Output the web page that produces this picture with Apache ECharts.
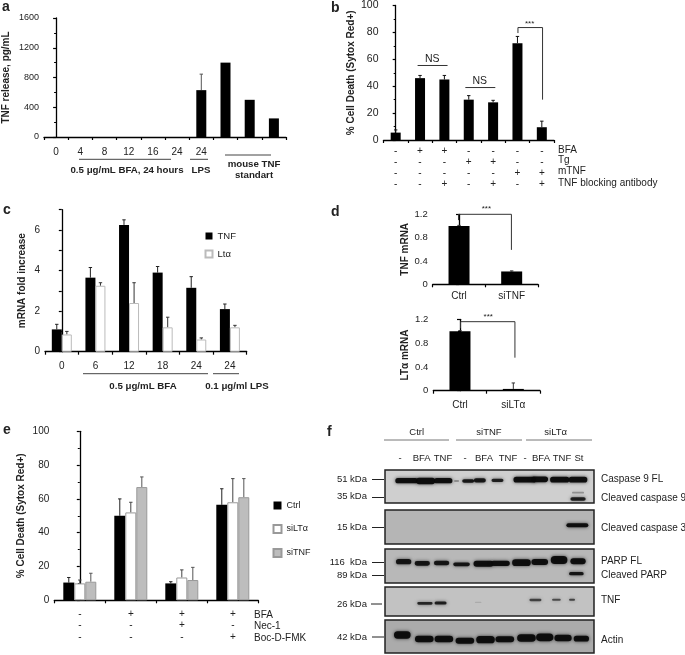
<!DOCTYPE html>
<html><head><meta charset="utf-8">
<style>html,body{margin:0;padding:0;background:#fff}#c{width:685px;height:655px;filter:blur(0.5px)}</style>
<script src="https://cdn.jsdelivr.net/npm/echarts@6/dist/echarts.min.js"></script>
</head><body><div id="c"></div>
<script>
// ---- data ----
const aCats=['0','4','8','12','16','24','24','','',''];
const aValues=[0,0,0,0,0,0,630,1000,500,250];
const aUpper=[null,null,null,null,null,null,845,null,null,null];

const bBFA=['-','+','+','-','-','-','-'];
const bTg=['-','-','-','+','+','-','-'];
const bMTNF=['-','-','-','-','-','+','+'];
const bAb=['-','-','+','-','+','-','+'];
const bValues=[5.5,46,45,30,28,72,9.5];
const bUpper=[7.5,48,48,33,29.5,77,14];

const cCats=['0','6','12','18','24','24'];
const cTNF=[1.1,3.65,6.25,3.9,3.15,2.1];
const cTNFUpper=[1.35,4.15,6.5,4.2,3.7,2.35];
const cLta=[0.85,3.25,2.4,1.2,0.6,1.2];
const cLtaUpper=[1.0,3.4,3.4,1.7,0.68,1.3];

const d1Cats=['Ctrl','siTNF'];
const d1Values=[1,0.22];
const d1Upper=[1.01,0.23];
const d2Cats=['Ctrl','siLTα'];
const d2Values=[1,0.03];
const d2Upper=[1.01,0.13];

const eBFA=['-','+','+','+'];
const eNec=['-','-','+','-'];
const eBoc=['-','-','-','+'];
const eCtrl=[10.5,50,10,56.5];
const eCtrlUpper=[13.5,60,11,66];
const eLta=[10,52,13.5,58];
const eLtaUpper=[12,58,18,72];
const eTNF=[11,67,12,61];
const eTNFUpper=[16,73,19.5,72];

// blot bands: [lane position, vertical position, band width, band thickness, darkness]
const blotCasp9=[[65,32,68,16,.95],[122,33,58,19,.95],[175,32,55,16,.95],[215,33,15,5,.4],[250,33,36,11,.9],[285,31,36,13,.9],[338,31,36,10,.85],[420,29,68,17,.95],[465,28,50,17,.95],[525,29,58,17,.95],[580,29,56,17,.95],[580,87,46,11,.85],[580,68,36,5,.3]];
const blotCasp3=[[578,46,66,12,.95]];
const blotPARP=[[56,38,46,16,.9],[112,43,46,14,.9],[170,42,46,14,.9],[230,46,50,11,.9],[296,44,60,18,.95],[347,43,56,16,.95],[410,41,56,20,.95],[465,39,50,18,.95],[523,33,50,24,.95],[580,37,46,18,.95],[575,74,44,10,.9]];
const blotTNFb=[[120,49,46,8,.8],[167,48,36,9,.85],[280,46,20,4,.12],[452,39,36,7,.65],[515,38,26,6,.6],[562,38,18,6,.65]];
const blotActin=[[52,45,50,22,.95],[118,57,56,20,.95],[177,57,56,20,.95],[240,62,56,18,.95],[302,59,56,22,.95],[360,58,56,18,.95],[425,54,56,23,.95],[480,52,52,23,.95],[535,54,52,20,.95],[590,56,46,17,.95]];

// ---- annotation text and rules ----
const FONT='"Liberation Sans",Arial,sans-serif';
const panelLetters=[['a',2,7],['b',331,8],['c',3,210],['d',331,212],['e',3,430],['f',327,432]];
const boldNotes=[['0.5 μg/mL BFA, 24 hours',127,170],['LPS',201,170],['mouse TNF',254,164],['standart',254,175],['0.5 μg/mL BFA',143,386],['0.1 μg/ml LPS',237,386]];
const rowNotes=[['BFA',558,150],['Tg',558,160.5],['mTNF',558,171.5],['TNF blocking antibody',558,183],['BFA',254,615],['Nec-1',254,626.5],['Boc-D-FMK',254,638]];
const centerNotes=[['Ctrl',416.7,432],['siTNF',489,432],['siLTα',555.7,432],['-',400,458.7],['BFA',421.7,458.7],['TNF',443,458.7],['-',465,458.7],['BFA',484,458.7],['TNF',508,458.7],['-',525,458.7],['BFA',541,458.7],['TNF',562,458.7],['St',579,458.7]];
const kdaNotes=[['51 kDa',479],['35 kDa',496],['15 kDa',527],['116  kDa',562],['89 kDa',575],['26 kDa',604],['42 kDa',637]];
const bandNotes=[['Caspase 9 FL',479],['Cleaved caspase 9',498],['Cleaved caspase 3',528],['PARP FL',561],['Cleaved PARP',575],['TNF',600],['Actin',640]];
const rules=[[79,159.3,171,159.3,'#444'],[190,159.3,208,159.3,'#444'],[225,155,271,155,'#444'],[83,373.7,208,373.7,'#444'],[213,373.7,239,373.7,'#444'],[384,440,449,440,'#777'],[456,440,522,440,'#777'],[526,440,592,440,'#777'],[372,479.5,384,479.5,'#222'],[372,497.5,384,497.5,'#222'],[372,527.5,384,527.5,'#222'],[372,562.5,384,562.5,'#222'],[372,575.5,384,575.5,'#222'],[371,604,382,604,'#222'],[372,637,384,637,'#222']];

// ---- builders ----
const grids=[],xAxes=[],yAxes=[],series=[];
const txt={fontFamily:FONT,color:'#222'};
const line={lineStyle:{color:'#000',width:1.3}};
function addChart(o){
  const g=grids.length,n=o.cats.length;
  grids.push({left:o.l,top:o.t,width:o.w,height:o.h,containLabel:false});
  xAxes.push({gridIndex:g,type:'category',data:o.cats,axisLine:line,axisTick:{show:true,length:3,inside:false,alignWithLabel:false,lineStyle:{color:'#000',width:1.2}},
    axisLabel:Object.assign({interval:0,fontSize:o.xSize||10,margin:o.xMargin||8,lineHeight:o.xLine||12},txt)});
  const hiddenIndex=xAxes.length;
  xAxes.push({gridIndex:g,type:'value',show:false,min:-0.5,max:n-0.5,splitLine:{show:false}});
  yAxes.push({gridIndex:g,type:'value',min:0,max:o.max,interval:o.iv,position:'left',
    name:o.name,nameLocation:'middle',nameGap:o.gap,nameTextStyle:Object.assign({fontSize:o.nameSize||10,fontWeight:'bold'},txt),
    axisLine:Object.assign({show:true},line),axisTick:{show:true,length:3,lineStyle:{color:'#000',width:1.2}},
    minorTick:{show:o.minor!==false,splitNumber:2,length:2,lineStyle:{color:'#000',width:1}},splitLine:{show:false},minorSplitLine:{show:false},
    axisLabel:Object.assign({fontSize:o.ySize||9,margin:5,formatter:o.yFmt||(v=>String(v))},txt)});
  return {g,x:hiddenIndex,y:yAxes.length-1};
}
function bars(ax,name,vals,width,style){
  series.push({type:'bar',name,data:vals,xAxisIndex:xAxes.findIndex(a=>a.gridIndex===ax.g),yAxisIndex:ax.y,barWidth:width,barGap:'0%',itemStyle:style,silent:true});
}
function errs(ax,vals,upper,offset,color){
  const d=vals.map((v,i)=>[i+offset,v,upper[i]]).filter(r=>r[2]!=null);
  series.push({type:'custom',xAxisIndex:ax.x,yAxisIndex:ax.y,data:d,encode:{x:0,y:2},clip:false,silent:true,z:1,
    renderItem:(p,api)=>{
      const a=api.coord([api.value(0),api.value(1)]),b=api.coord([api.value(0),api.value(2)]);
      const s={stroke:color,lineWidth:1};
      return {type:'group',children:[
        {type:'line',shape:{x1:a[0],y1:a[1],x2:b[0],y2:b[1]},style:s},
        {type:'line',shape:{x1:b[0]-1.7,y1:b[1],x2:b[0]+1.7,y2:b[1]},style:s}]};
    }});
}
function bracket(ax,pts,label,lx,ly,size,color){
  series.push({type:'custom',xAxisIndex:ax.x,yAxisIndex:ax.y,data:[pts[0]],encode:{x:0,y:1},clip:false,silent:true,z:5,
    renderItem:(p,api)=>{
      const c=pts.map(q=>api.coord(q)),t=api.coord([lx,ly]);
      return {type:'group',children:[
        {type:'polyline',shape:{points:c},style:{stroke:color||'#333',lineWidth:1,fill:'none'}},
        {type:'text',style:{text:label,x:t[0],y:t[1],align:'center',verticalAlign:'middle',font:(size||10)+'px '+FONT,fill:'#222'}}]};
    }});
}
function blot(l,t,w,h,bg,bands){
  const g=grids.length;
  grids.push({show:true,left:l,top:t,width:w,height:h,backgroundColor:bg,borderColor:'#222',borderWidth:1.5});
  xAxes.push({gridIndex:g,type:'value',show:false,min:0,max:628});
  yAxes.push({gridIndex:g,type:'value',show:false,inverse:true,min:0,max:h*3});
  series.push({type:'custom',xAxisIndex:xAxes.length-1,yAxisIndex:yAxes.length-1,data:bands,encode:{x:0,y:1},clip:true,silent:true,
    renderItem:(p,api)=>{
      const v=[0,1,2,3,4].map(i=>api.value(i)),c=api.coord([v[0],v[1]]),sz=api.size([v[2],v[3]]);
      return {type:'rect',shape:{x:c[0]-sz[0]/2,y:c[1]-sz[1]/2,width:sz[0],height:sz[1],r:sz[1]/2},
        style:{fill:'rgba(10,10,10,'+v[4]+')',shadowBlur:3.5,shadowColor:'rgba(10,10,10,'+(v[4]*0.8)+')'}};
    }});
}
const black={color:'#000'};
const rows=(...cols)=>cols[0].map((_,i)=>cols.map(c=>c[i]).join('\n'));

// panel a
const a=addChart({l:44,t:18,w:242,h:119,cats:aCats,max:1600,iv:400,name:'TNF release, pg/mL',gap:33,xMargin:9});
bars(a,'TNF release',aValues,10,black);errs(a,aValues,aUpper,0,'#555');
// panel b
const b=addChart({l:383.5,t:5,w:170.5,h:135,cats:rows(bBFA,bTg,bMTNF,bAb),max:100,iv:20,ySize:10.5,name:'% Cell Death (Sytox Red+)',gap:27,xMargin:6,xLine:11});
bars(b,'Cell death',bValues,10,black);errs(b,bValues,bUpper,0,'#111');
bracket(b,[[0.9,55.4],[2.13,55.4]],'NS',1.5,60.5,10.5);
bracket(b,[[2.86,39],[4.09,39]],'NS',3.45,44,10.5);
bracket(b,[[5.02,79.5],[5.02,83.6],[6.03,83.6],[6.03,30]],'***',5.5,86.5,8);
// panel c
const c=addChart({l:45,t:209.7,w:201.7,h:142,cats:cCats,max:7,iv:1,ySize:10,minor:false,name:'mRNA fold increase',gap:18,xMargin:9,yFmt:v=>v%2===0?String(v):''});
bars(c,'TNF',cTNF,10,black);bars(c,'Ltα',cLta,10,{color:'#fff',borderColor:'#bbb',borderWidth:1});
errs(c,cTNF,cTNFUpper,-0.15,'#222');errs(c,cLta,cLtaUpper,0.15,'#333');
// panel d
const d1=addChart({l:432.7,t:214.3,w:105.3,h:70,cats:d1Cats,max:1.2,iv:0.4,name:'TNF mRNA',gap:22,xMargin:6,ySize:9.5});
bars(d1,'TNF mRNA',d1Values,21,black);errs(d1,d1Values,d1Upper,0,'#333');
bracket(d1,[[-0.01,1.1],[-0.01,1.2],[0.995,1.2],[0.995,0.59]],'***',0.52,1.3,8);
const d2=addChart({l:433.3,t:319.3,w:106.7,h:71.4,cats:d2Cats,max:1.2,iv:0.4,name:'LTα mRNA',gap:23,xMargin:9,ySize:9.5});
bars(d2,'LTα mRNA',d2Values,21,black);errs(d2,d2Values,d2Upper,0,'#333');
bracket(d2,[[0.01,1.05],[0.01,1.16],[1.03,1.16],[1.03,0.555]],'***',0.53,1.25,8);
// panel e
const e=addChart({l:54.3,t:431.3,w:204,h:169,cats:rows(eBFA,eNec,eBoc),max:100,iv:20,ySize:10,name:'% Cell Death (Sytox Red+)',gap:28,xMargin:8,xLine:11.6});
bars(e,'Ctrl',eCtrl,11,black);
bars(e,'siLTα',eLta,11,{color:'#fff',borderColor:'#999',borderWidth:1});
bars(e,'siTNF',eTNF,11,{color:'#bdbdbd',borderColor:'#999',borderWidth:1});
errs(e,eCtrl,eCtrlUpper,-0.216,'#222');errs(e,eLta,eLtaUpper,0,'#444');errs(e,eTNF,eTNFUpper,0.216,'#555');
// panel f
blot(385,470,209,33,'#cfcfcf',blotCasp9);
blot(385,510,209,34,'#b5b5b5',blotCasp3);
blot(385,549,209,34,'#b8b8b8',blotPARP);
blot(385,587,209,29,'#c2c2c2',blotTNFb);
blot(385,620,209,33,'#ababab',blotActin);

// overlay text
const graphic=[];
const addText=(text,x,y,align,size,weight)=>graphic.push({type:'text',silent:true,style:{text,x,y,align,verticalAlign:'middle',font:(weight||'normal')+' '+size+'px '+FONT,fill:'#222'}});
panelLetters.forEach(r=>addText(r[0],r[1],r[2],'left',14,'bold'));
boldNotes.forEach(r=>addText(r[0],r[1],r[2],'center',9.7,'bold'));
rowNotes.forEach(r=>addText(r[0],r[1],r[2],'left',10));
centerNotes.forEach(r=>addText(r[0],r[1],r[2],'center',9.5));
kdaNotes.forEach(r=>addText(r[0],367,r[1],'right',9.5));
bandNotes.forEach(r=>addText(r[0],601,r[1],'left',10));
rules.forEach(r=>graphic.push({type:'line',silent:true,shape:{x1:r[0],y1:r[1],x2:r[2],y2:r[3]},style:{stroke:r[4],lineWidth:1}}));

const chart=echarts.init(document.getElementById('c'),null,{renderer:'canvas',width:685,height:655});
chart.setOption({animation:false,backgroundColor:'#fff',grid:grids,xAxis:xAxes,yAxis:yAxes,series,graphic,
  legend:[
    {data:['TNF','Ltα'],orient:'vertical',left:204.5,top:231,padding:0,icon:'rect',itemWidth:7,itemHeight:7,itemGap:8,selectedMode:false,textStyle:Object.assign({fontSize:9.5},txt)},
    {data:['Ctrl','siLTα','siTNF'],orient:'vertical',left:272.5,top:501,padding:0,icon:'rect',itemWidth:8,itemHeight:8,itemGap:14,selectedMode:false,textStyle:Object.assign({fontSize:9},txt)}
  ]});
</script></body></html>
